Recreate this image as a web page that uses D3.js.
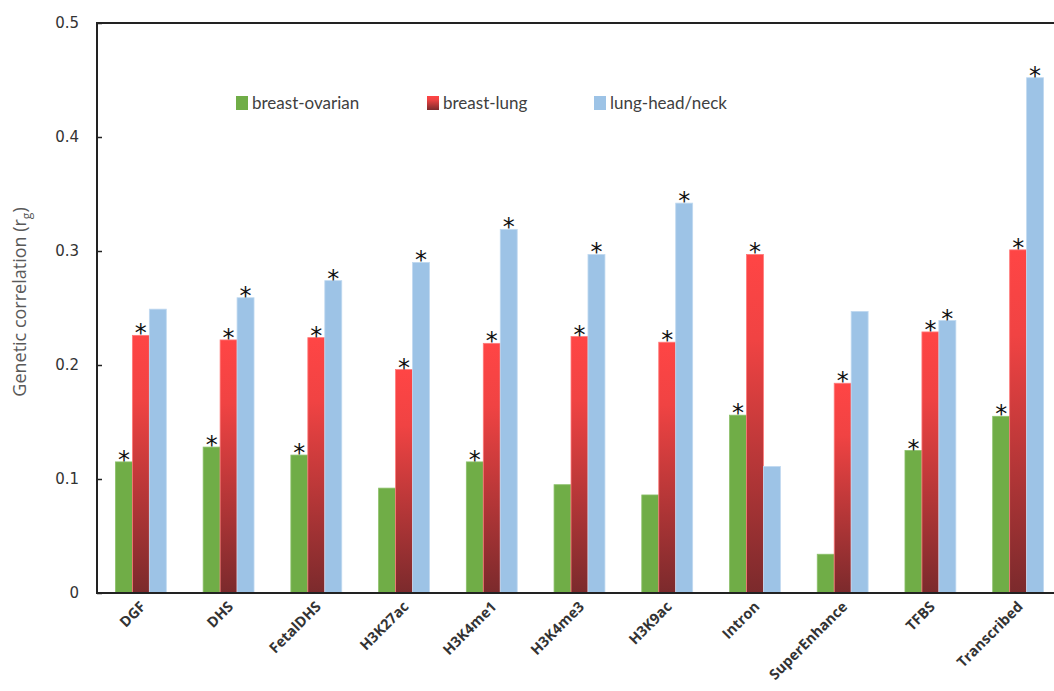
<!DOCTYPE html>
<html>
<head>
<meta charset="utf-8">
<script src="https://cdn.jsdelivr.net/npm/d3@7"></script>
<style>
  html, body { margin: 0; padding: 0; background: #fff; }
  svg { display: block; }
</style>
</head>
<body>
<svg id="chart" width="1054" height="691"></svg>
<script>
// data
const categories = ["DGF", "DHS", "FetalDHS", "H3K27ac", "H3K4me1", "H3K4me3",
  "H3K9ac", "Intron", "SuperEnhance", "TFBS", "Transcribed"]
const seriesNames = ["breast-ovarian", "breast-lung", "lung-head/neck"]
const breastOvarian = [0.115, 0.128, 0.121, 0.092, 0.115, 0.095, 0.086, 0.156, 0.034, 0.125, 0.155]
const breastLung = [0.226, 0.222, 0.224, 0.196, 0.219, 0.225, 0.220, 0.297, 0.184, 0.229, 0.301]
const lungHeadNeck = [0.249, 0.259, 0.274, 0.290, 0.319, 0.297, 0.342, 0.111, 0.247, 0.239, 0.452]
// 1 = marked with an asterisk
const sigOvarian = [1, 1, 1, 0, 1, 0, 0, 1, 0, 1, 1]
const sigLung = [1, 1, 1, 1, 1, 1, 1, 1, 1, 1, 1]
const sigHeadNeck = [0, 1, 1, 1, 1, 1, 1, 0, 0, 1, 1]
const yTicks = [0, 0.1, 0.2, 0.3, 0.4, 0.5]

const svg = d3.select("#chart")
const margin = { left: 97, top: 23, right: 1062, bottom: 593 }

const values = [breastOvarian, breastLung, lungHeadNeck]
const sigs = [sigOvarian, sigLung, sigHeadNeck]

const x = d3.scaleBand()
  .domain(categories)
  .range([margin.left, margin.right])
  .paddingInner(0.42)
  .paddingOuter(0.21)

const xSub = d3.scaleBand()
  .domain(seriesNames)
  .range([0, x.bandwidth()])

const y = d3.scaleLinear()
  .domain([0, 0.5])
  .range([margin.bottom, margin.top])

// gradient for the red series
const defs = svg.append("defs")
const grad = defs.append("linearGradient")
  .attr("id", "redGrad")
  .attr("x1", 0).attr("y1", 0).attr("x2", 0).attr("y2", 1)
grad.append("stop").attr("offset", "0%").attr("stop-color", "#ff4545")
grad.append("stop").attr("offset", "25%").attr("stop-color", "#f04343")
grad.append("stop").attr("offset", "100%").attr("stop-color", "#7b2a2c")

const colors = ["#70ad47", "url(#redGrad)", "#9dc3e6"]
const strokes = ["#8cc06a", "#ff7a7a", "#c0d9f0"]

// bars
const flat = []
categories.forEach((c, i) => {
  seriesNames.forEach((s, j) => {
    flat.push({ cat: c, series: s, j: j, value: values[j][i], sig: sigs[j][i] })
  })
})

svg.append("g")
  .selectAll("rect")
  .data(flat)
  .enter()
  .append("rect")
  .attr("x", d => x(d.cat) + xSub(d.series))
  .attr("width", xSub.bandwidth())
  .attr("y", d => y(d.value))
  .attr("height", d => y(0) - y(d.value))
  .attr("fill", d => colors[d.j])
  .attr("stroke", d => strokes[d.j])
  .attr("stroke-width", 0.8)

// asterisks
svg.append("g")
  .selectAll("text")
  .data(flat.filter(d => d.sig))
  .enter()
  .append("text")
  .attr("x", d => x(d.cat) + xSub(d.series) + xSub.bandwidth() / 2)
  .attr("y", d => y(d.value) + 6)
  .attr("text-anchor", "middle")
  .style("font-family", "DejaVu Sans, sans-serif")
  .style("font-size", "24px")
  .style("fill", "#111")
  .text("*")

// frame: left axis, bottom axis, top border
const yAxis = d3.axisRight(y)
  .tickValues(yTicks)
  .tickSize(5)
  .tickFormat("")
svg.append("g")
  .attr("transform", `translate(${margin.left},0)`)
  .call(yAxis)
  .call(g => g.select(".domain").remove())
  .selectAll("line")
  .attr("stroke", "#222")
  .attr("stroke-width", 1.5)

svg.append("path")
  .attr("d", `M${margin.right},${margin.top}H${margin.left}V${margin.bottom}H${margin.right}`)
  .attr("fill", "none")
  .attr("stroke", "#222")
  .attr("stroke-width", 2)

// y tick labels
svg.append("g")
  .selectAll("text")
  .data(yTicks)
  .enter()
  .append("text")
  .attr("x", 79)
  .attr("y", d => y(d))
  .attr("dy", "0.36em")
  .attr("text-anchor", "end")
  .style("font-family", "DejaVu Sans, Verdana, sans-serif")
  .style("font-size", "15px")
  .style("fill", "#333")
  .text(d => d === 0 ? "0" : d3.format(".1f")(d))

// y title
const title = svg.append("text")
  .attr("transform", "translate(26,302) rotate(-90)")
  .attr("text-anchor", "middle")
  .style("font-family", "Open Sans, sans-serif")
  .style("font-size", "18px")
  .style("fill", "#595959")
title.append("tspan").text("Genetic correlation (r")
title.append("tspan").attr("dy", "5").style("font-size", "12px").text("g")
title.append("tspan").attr("dy", "-5").text(")")

// x labels
svg.append("g")
  .selectAll("text")
  .data(categories)
  .enter()
  .append("text")
  .attr("transform", d => `translate(${x(d) + x.bandwidth() / 2 + 2},${604}) rotate(-45)`)
  .attr("text-anchor", "end")
  .attr("dy", "0.35em")
  .style("font-family", "Open Sans, sans-serif")
  .style("font-weight", "bold")
  .style("font-size", "14.5px")
  .style("fill", "#333")
  .text(d => d)

// legend
const legendX = [236, 427, 594]
const legend = svg.append("g")
  .selectAll("g")
  .data(seriesNames)
  .enter()
  .append("g")
  .attr("transform", (d, i) => `translate(${legendX[i]},96)`)

legend.append("rect")
  .attr("width", 12)
  .attr("height", 14)
  .attr("fill", (d, i) => colors[i])

legend.append("text")
  .attr("x", 16)
  .attr("y", 7)
  .attr("dy", "0.35em")
  .style("font-family", "Lato, sans-serif")
  .style("font-size", "17px")
  .style("fill", "#404040")
  .text(d => d)
</script>
</body>
</html>
